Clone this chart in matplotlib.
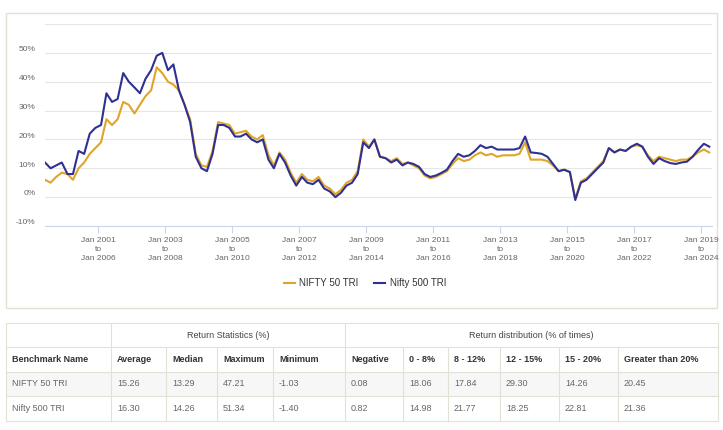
import pandas as pd
import matplotlib.pyplot as plt
from matplotlib.patches import Rectangle
import matplotlib.transforms as mtransforms

plt.rcParams['font.family'] = ['Liberation Sans', 'DejaVu Sans']

# 5-year rolling returns (%), one point every two months from Jun 1999
dates = pd.date_range('1999-06-01', periods=120, freq='2MS')

nifty50 = [6, 5, 7, 8.5, 8, 6, 10, 12, 15, 17,
           19, 27, 25, 27, 33, 32, 29, 32, 35, 37,
           45, 43, 40, 39, 37, 32, 27, 15, 11, 10.5,
           16, 26, 25.5, 25, 22, 22.5, 23, 21, 20, 21.5,
           14.5, 11, 15.5, 13, 8.5, 5, 8, 6, 5.5, 7,
           4, 3, 1, 2.5, 5, 6, 9, 20, 17.5, 20,
           14, 13.5, 12.5, 13.5, 11.5, 12, 11, 10, 7.5, 6.5,
           7, 8, 9, 11.5, 13.5, 12.5, 13, 14.5, 15.5, 14.5,
           15, 14, 14.5, 14.5, 14.5, 15, 19, 13, 13, 13,
           12.5, 11, 9, 9.5, 8.7, -0.5, 5.5, 6.5, 8.5, 10.5,
           12.5, 17, 15.5, 16.5, 16, 17.5, 18, 17.5, 14.5, 12.5,
           14, 13.5, 13, 12.5, 13, 13, 14, 15.5, 16.5, 15.5]

nifty500 = [12, 10, 11, 12, 8, 8, 16, 15, 22, 24,
            25, 36, 33, 34, 43, 40, 38, 36, 41, 44,
            49, 50, 44, 46, 37, 32, 26, 14, 10, 9,
            15, 25, 25, 24, 21, 21, 22, 20, 19, 20,
            13, 10, 15, 12, 7.5, 4, 7, 5, 4.5, 6,
            3, 2, 0, 1.5, 4, 5, 8, 19, 17, 20,
            14, 13.5, 12, 13, 11, 12, 11.5, 10.5, 8, 7,
            7.5, 8.4, 9.5, 12.5, 15, 14, 14.5, 16, 18, 17,
            17.5, 16.5, 16.5, 16.5, 16.5, 17, 21, 15.5, 15.3, 15,
            14, 11.5, 9, 9.5, 8.7, -1.0, 5, 6, 8, 10,
            12, 17, 15.5, 16.5, 16, 17.5, 18.5, 17.5, 14, 11.5,
            13.5, 12.5, 11.8, 11.5, 12, 12.3, 14, 16.4, 18.5, 17.5]

tick_years = [2001, 2003, 2005, 2007, 2009, 2011, 2013, 2015, 2017, 2019]

# table
group_headers = ['Return Statistics (%)', 'Return distribution (% of times)']
col_headers = ['Benchmark Name', 'Average', 'Median', 'Maximum', 'Minimum',
               'Negative', '0 - 8%', '8 - 12%', '12 - 15%', '15 - 20%', 'Greater than 20%']
table_rows = [
    ['NIFTY 50 TRI', '15.26', '13.29', '47.21', '-1.03', '0.08', '18.06', '17.84', '29.30', '14.26', '20.45'],
    ['Nifty 500 TRI', '16.30', '14.26', '51.34', '-1.40', '0.82', '14.98', '21.77', '18.25', '22.81', '21.36'],
]

orange = '#e0a526'
navy = '#2e3192'
border = '#e3e0d6'

W, H = 723, 430
fig = plt.figure(figsize=(W / 100, H / 100), dpi=100)

# pixel-space overlay for panel border and table
bg = fig.add_axes([0, 0, 1, 1])
bg.set_xlim(0, W)
bg.set_ylim(H, 0)
bg.axis('off')
bg.add_patch(Rectangle((6, 13), 711, 295, fill=False, ec=border, lw=1))

# chart
ax = fig.add_axes([45 / W, 1 - 226 / H, (712 - 45) / W, (226 - 24) / H])
ax.plot(dates, nifty50, color=orange, lw=1.5, label='NIFTY 50 TRI')
ax.plot(dates, nifty500, color=navy, lw=1.5, label='Nifty 500 TRI')
ax.set_ylim(-10, 60)
ax.set_xlim(dates[0], dates[-1] + pd.Timedelta(days=30))
yt = list(range(-10, 70, 10))
ax.set_yticks(yt)
ax.set_yticklabels([f'{v}%' if v < 60 else '' for v in yt], fontsize=6, color='#666666')
ax.set_xticks([pd.Timestamp(f'{y}-01-01') for y in tick_years])
ax.set_xticklabels([f'Jan {y}\nto\nJan {y + 5}' for y in tick_years],
                   fontsize=6, color='#666666', linespacing=1.35)
ax.grid(axis='y', color='#e6e6e6', lw=0.8)
ax.set_axisbelow(True)
for s in ['top', 'right', 'left']:
    ax.spines[s].set_visible(False)
ax.spines['bottom'].set_color('#ccd6eb')
ax.tick_params(axis='y', length=0, pad=7)
ax.tick_params(axis='x', length=5, color='#ccd6eb', pad=3)
off = mtransforms.ScaledTranslation(0, 3 / 72, fig.dpi_scale_trans)
for lab in ax.get_yticklabels():
    lab.set_transform(lab.get_transform() + off)

fig.legend(loc='center', bbox_to_anchor=(365 / W, 1 - 283 / H), ncol=2, frameon=False,
           fontsize=7, handlelength=1.1, columnspacing=1.6, handletextpad=0.5,
           labelcolor='#333333')

# table geometry (pixels)
xs = [6, 111, 166, 217, 273, 345, 403, 448, 500, 559, 618, 718]
ys = [323, 347, 372, 396, 421]
bg.add_patch(Rectangle((xs[0], ys[2]), xs[-1] - xs[0], ys[3] - ys[2], fc='#f7f7f7', ec='none'))
for y in ys:
    bg.plot([xs[0], xs[-1]], [y, y], color=border, lw=0.8)
for i, x in enumerate(xs):
    if x in (6, 111, 345, 718):
        bg.plot([x, x], [ys[0], ys[-1]], color=border, lw=0.8)
    else:
        bg.plot([x, x], [ys[1], ys[-1]], color=border, lw=0.8)

mid = lambda a, b: (a + b) / 2
bg.text(mid(111, 345), mid(ys[0], ys[1]), group_headers[0], fontsize=6.5,
        color='#444444', ha='center', va='center')
bg.text(mid(345, 718), mid(ys[0], ys[1]), group_headers[1], fontsize=6.5,
        color='#444444', ha='center', va='center')
for i, h in enumerate(col_headers):
    bg.text(xs[i] + 6, mid(ys[1], ys[2]), h, fontsize=6.5, fontweight='bold',
            color='#333333', ha='left', va='center')
for r, row in enumerate(table_rows):
    for i, v in enumerate(row):
        bg.text(xs[i] + 6, mid(ys[2 + r], ys[3 + r]), v, fontsize=6.5,
                color='#666666', ha='left', va='center')

fig.savefig('out.png', dpi=100)
